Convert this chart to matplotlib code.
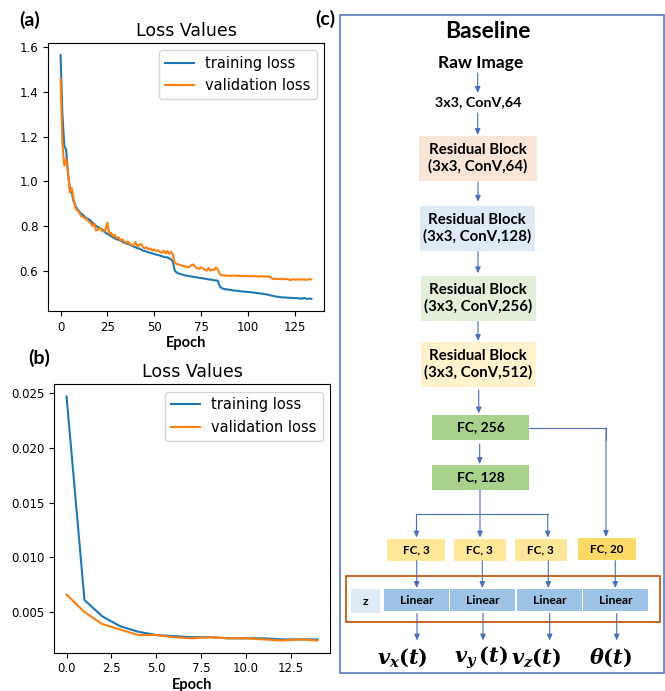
import matplotlib
matplotlib.use("Agg")
import matplotlib.pyplot as plt
from matplotlib.patches import Rectangle

# ---------------- data ----------------
epochs_a = list(range(135))
train_a = [
    1.565, 1.30, 1.16, 1.14, 1.03, 0.97, 0.95, 0.91, 0.89, 0.875,
    0.865, 0.855, 0.85, 0.84, 0.835, 0.83, 0.825, 0.815, 0.81, 0.80,
    0.795, 0.79, 0.785, 0.78, 0.77, 0.765, 0.76, 0.755, 0.75, 0.745,
    0.74, 0.738, 0.735, 0.73, 0.725, 0.722, 0.72, 0.717, 0.712, 0.708,
    0.705, 0.70, 0.70, 0.695, 0.69, 0.688, 0.685, 0.682, 0.68, 0.677,
    0.675, 0.672, 0.67, 0.668, 0.665, 0.662, 0.66, 0.66, 0.655, 0.652,
    0.64, 0.60, 0.592, 0.588, 0.585, 0.583, 0.58, 0.578, 0.577, 0.575,
    0.574, 0.572, 0.571, 0.57, 0.568, 0.567, 0.566, 0.564, 0.563, 0.561,
    0.56, 0.559, 0.557, 0.556, 0.555, 0.53, 0.522, 0.519, 0.517, 0.516,
    0.515, 0.513, 0.512, 0.511, 0.51, 0.509, 0.508, 0.507, 0.506, 0.505,
    0.505, 0.504, 0.503, 0.502, 0.501, 0.50, 0.499, 0.498, 0.496, 0.495,
    0.494, 0.492, 0.49, 0.488, 0.486, 0.484, 0.483, 0.482, 0.481, 0.48,
    0.48, 0.479, 0.479, 0.478, 0.478, 0.477, 0.477, 0.476, 0.476, 0.474,
    0.478, 0.475, 0.474, 0.475, 0.474,
]
val_a = [
    1.46, 1.17, 1.07, 1.10, 1.04, 0.95, 0.97, 0.92, 0.88, 0.87,
    0.86, 0.845, 0.84, 0.835, 0.83, 0.82, 0.815, 0.80, 0.81, 0.78,
    0.785, 0.79, 0.78, 0.775, 0.785, 0.815, 0.765, 0.77, 0.755, 0.76,
    0.745, 0.75, 0.735, 0.74, 0.73, 0.725, 0.73, 0.72, 0.715, 0.712,
    0.728, 0.71, 0.715, 0.72, 0.705, 0.70, 0.705, 0.695, 0.70, 0.69,
    0.695, 0.688, 0.692, 0.685, 0.68, 0.69, 0.678, 0.688, 0.675, 0.685,
    0.672, 0.635, 0.63, 0.628, 0.625, 0.622, 0.62, 0.618, 0.615, 0.618,
    0.625, 0.628, 0.615, 0.612, 0.608, 0.615, 0.61, 0.605, 0.60, 0.612,
    0.60, 0.605, 0.603, 0.615, 0.605, 0.585, 0.58, 0.578, 0.579, 0.577,
    0.578, 0.576, 0.579, 0.577, 0.578, 0.576, 0.578, 0.575, 0.577, 0.576,
    0.577, 0.575, 0.576, 0.574, 0.576, 0.575, 0.573, 0.576, 0.574, 0.573,
    0.575, 0.572, 0.573, 0.565, 0.563, 0.564, 0.562, 0.563, 0.564, 0.561,
    0.563, 0.562, 0.56, 0.558, 0.562, 0.56, 0.561, 0.559, 0.562, 0.56,
    0.561, 0.559, 0.56, 0.562, 0.561,
]
epochs_b = list(range(15))
train_b = [0.0247, 0.0061, 0.0046, 0.0037, 0.0032, 0.0029, 0.0028, 0.0027,
           0.0027, 0.0026, 0.0026, 0.0026, 0.0025, 0.0025, 0.0025]
val_b = [0.0066, 0.0050, 0.0039, 0.0034, 0.0029, 0.0029, 0.0027, 0.0026,
         0.0027, 0.0026, 0.0026, 0.0025, 0.0024, 0.0025, 0.0024]

chart_title = "Loss Values"
series_labels = ["training loss", "validation loss"]
x_label = "Epoch"
panel_labels = ["(a)", "(b)", "(c)"]

diagram_title = "Baseline"
input_label = "Raw Image"
conv_label = "3x3, ConV,64"
res_labels = ["Residual Block\n(3x3, ConV,64)", "Residual Block\n(3x3, ConV,128)",
              "Residual Block\n(3x3, ConV,256)", "Residual Block\n(3x3, ConV,512)"]
fc_main_labels = ["FC, 256", "FC, 128"]
head_labels = ["FC, 3", "FC, 3", "FC, 3", "FC, 20"]
linear_labels = ["Linear", "Linear", "Linear", "Linear"]
z_label = "z"
output_labels = [r"$v_x(t)$", r"$v_y\,(t)$", r"$v_z(t)$", r"$\theta(t)$"]

# ---------------- style ----------------
plt.rcParams["mathtext.fontset"] = "custom"
plt.rcParams["mathtext.it"] = "DejaVu Serif:italic:bold"
plt.rcParams["mathtext.rm"] = "DejaVu Serif:bold"
plt.rcParams["mathtext.bf"] = "DejaVu Serif:bold"
CAL = ["Lato", "DejaVu Sans"]
BLUE_LINE = "#4a6fb8"

W, H = 665, 691
fig = plt.figure(figsize=(W / 100, H / 100), dpi=100)


def chart(rect, x, tr, va):
    ax = fig.add_axes(rect)
    ax.plot(x, tr, color="#1f77b4", lw=1.5, label=series_labels[0])
    ax.plot(x, va, color="#ff7f0e", lw=1.5, label=series_labels[1])
    ax.set_title(chart_title, fontsize=12.5, pad=5)
    ax.tick_params(labelsize=8.5)
    ax.set_xlabel(x_label, fontsize=10.5, fontweight="bold", family=CAL, labelpad=1.5)
    ax.legend(loc="upper right", fontsize=10.5, handlelength=2.0)
    return ax


ax_a = chart([48 / W, 1 - 311 / H, 276 / W, 268 / H], epochs_a, train_a, val_a)
ax_b = chart([54 / W, 1 - 652.7 / H, 276 / W, 268.4 / H], epochs_b, train_b, val_b)
ax_b.set_yticks([0.005, 0.010, 0.015, 0.020, 0.025])
ax_b.set_yticklabels(["0.005", "0.010", "0.015", "0.020", "0.025"])

# ---------------- diagram overlay ----------------
ax_d = fig.add_axes([0, 0, 1, 1], zorder=5)
ax_d.set_xlim(0, W)
ax_d.set_ylim(H, 0)
ax_d.axis("off")
ax_d.patch.set_alpha(0)

fig.text(30 / W, 1 - 20 / H, panel_labels[0], ha="center", va="center",
         fontsize=14, fontweight="bold", family=CAL)
fig.text(39 / W, 1 - 358 / H, panel_labels[1], ha="center", va="center",
         fontsize=14, fontweight="bold", family=CAL)
fig.text(325 / W, 1 - 19 / H, panel_labels[2], ha="center", va="center",
         fontsize=14, fontweight="bold", family=CAL)

ax_d.add_patch(Rectangle((339.5, 15), 664 - 339.5, 672.7 - 15, fill=False,
                         ec=BLUE_LINE, lw=1.1))


def box(x0, x1, y0, y1, fc, text, fs, ec="none"):
    ax_d.add_patch(Rectangle((x0, y0), x1 - x0, y1 - y0, fc=fc, ec=ec, lw=0))
    ax_d.text((x0 + x1) / 2, (y0 + y1) / 2, text, ha="center", va="center",
              fontsize=fs, fontweight="bold", family=CAL, linespacing=1.2)


def arrow(x, y0, y1):
    ax_d.annotate("", xy=(x, y1), xytext=(x, y0),
                  arrowprops=dict(arrowstyle="-|>,head_length=0.45,head_width=0.2",
                                  color=BLUE_LINE, lw=0.8, shrinkA=0, shrinkB=0,
                                  mutation_scale=8))


def line(xs, ys):
    ax_d.plot(xs, ys, color=BLUE_LINE, lw=0.8)


ax_d.text(487.7, 31, diagram_title, ha="center", va="center", fontsize=16.5,
          fontweight="bold", family=CAL)
ax_d.text(480.7, 63, input_label, ha="center", va="center", fontsize=12.5,
          fontweight="bold", family=CAL)
ax_d.text(477.7, 101.7, conv_label, ha="center", va="center", fontsize=10.3,
          fontweight="bold", family=CAL)

res_geom = [(419.3, 536.7, 136, 180.7, "#FBE5D6"),
            (420, 534.7, 206, 250.7, "#DEEBF7"),
            (421, 535.7, 276, 320.7, "#E2F0D9"),
            (421, 535.7, 341.7, 386.7, "#FFF2CC")]
for (x0, x1, y0, y1, c), t in zip(res_geom, res_labels):
    box(x0, x1, y0, y1, c, t, 10.8)

fc_geom = [(432, 529, 415, 440), (432, 529, 465, 490)]
for (x0, x1, y0, y1), t in zip(fc_geom, fc_main_labels):
    box(x0, x1, y0, y1, "#A9D18E", t, 10)

head_geom = [(387.3, 445, 539, 560.7, "#FFE699"),
             (454, 505.7, 539, 560.7, "#FFE699"),
             (515, 566.7, 539, 560.7, "#FFE699"),
             (578.3, 635.7, 538.3, 560, "#FFD966")]
for (x0, x1, y0, y1, c), t in zip(head_geom, head_labels):
    box(x0, x1, y0, y1, c, t, 8.4)

ax_d.add_patch(Rectangle((346, 575.7), 660 - 346, 622.3 - 575.7, fill=False,
                         ec="#C55A11", lw=1.3))
box(350.7, 380, 589.3, 613.3, "#DEEBF7", z_label, 8.8)
lin_geom = [(384, 449), (450, 515), (517.3, 581.7), (583.3, 647.7)]
for (x0, x1), t in zip(lin_geom, linear_labels):
    box(x0, x1, 589.3, 610.7, "#9DC3E6", t, 8.8)

# arrows
arrow(477.7, 73, 93)
arrow(477.7, 113, 135)
arrow(478, 182, 201.7)
arrow(478, 251.7, 273.3)
arrow(478, 321.7, 341)
arrow(478.7, 390, 413.5)
arrow(479.7, 444, 464)
arrow(480, 490, 537.5)
line([416.5, 547.7], [514.3, 514.3])
arrow(416.5, 514.3, 537.5)
arrow(547.7, 514.3, 537.5)
line([529, 606, 606], [427.7, 427.7, 440])
arrow(606, 427.7, 537)
for xa in [416.7, 482.3, 548.3, 615.3]:
    arrow(xa, 560.7, 588)
for xa in [417, 483, 549.7, 616.7]:
    arrow(xa, 613.5, 640.5)

for xo, t in zip([402.7, 480.7, 536, 610.7], output_labels):
    ax_d.text(xo, 657.5, t, ha="center", va="center", fontsize=15)

fig.savefig("out.png", dpi=100)
